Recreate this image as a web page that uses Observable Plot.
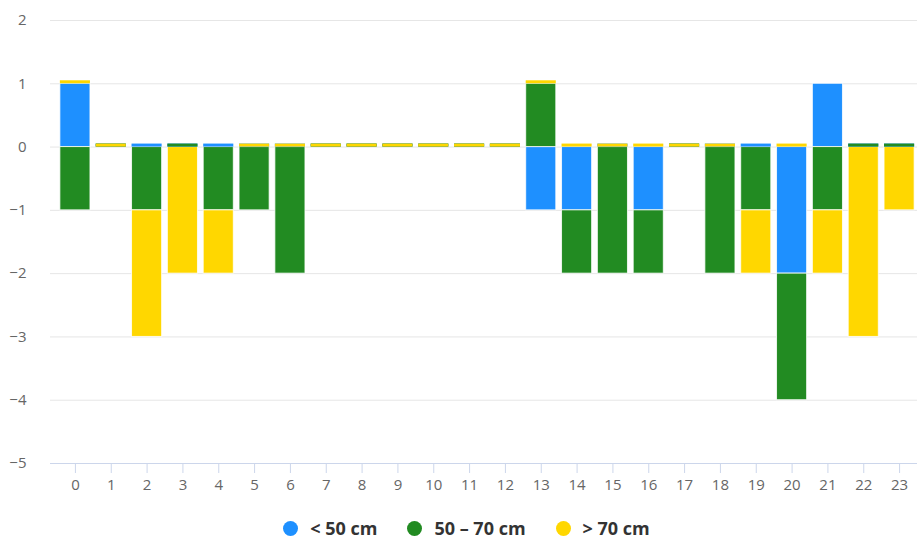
<!DOCTYPE html>
<html>
<head>
<meta charset="utf-8">
<script src="https://cdn.jsdelivr.net/npm/d3@7"></script>
<script src="https://cdn.jsdelivr.net/npm/@observablehq/plot@0.6"></script>
<style>
  html, body { margin: 0; padding: 0; background: #fff; }
  #chart { width: 917px; }
  .legend { display: flex; justify-content: center; align-items: center; margin-top: 18px; height: 20px; line-height: 20px; padding-left: 16px;
    font-family: "Open Sans", sans-serif; font-size: 18px; font-weight: 700; color: #333; }
  .legend .item { display: flex; align-items: center; margin: 0 15px; }
  .legend .dot { width: 15px; height: 15px; border-radius: 50%; margin-right: 12px; }
</style>
</head>
<body>
<div id="chart"></div>
<script>
const hours = [0,1,2,3,4,5,6,7,8,9,10,11,12,13,14,15,16,17,18,19,20,21,22,23];
const seriesNames = ["< 50 cm", "50 – 70 cm", "> 70 cm"];
const seriesColors = ["#1E90FF", "#228B22", "#FFD700"];
const lt50  = [ 1, 0, 0, 0, 0, 0, 0, 0, 0, 0, 0, 0, 0,-1,-1, 0,-1, 0, 0, 0,-2, 1, 0, 0];
const mid   = [-1, 0,-1, 0,-1,-1,-2, 0, 0, 0, 0, 0, 0, 1,-1,-2,-1, 0,-2,-1,-2,-1, 0, 0];
const gt70  = [ 0, 0,-2,-2,-1, 0, 0, 0, 0, 0, 0, 0, 0, 0, 0, 0, 0, 0, 0,-1, 0,-1,-3,-1];
const yTicks = [-5,-4,-3,-2,-1,0,1,2];

const seriesValues = [lt50, mid, gt70];
const table = [];
hours.forEach((h, i) => {
  seriesValues.forEach((vals, s) => {
    table.push({hour: String(h), series: seriesNames[s], value: vals[i]});
  });
});

const stackOpts = {x: "hour", y: "value", fill: "series"};
const fmt = d => (d < 0 ? "\u2212" : "") + Math.abs(d);

const chart = Plot.plot({
  width: 917,
  height: 500,
  marginTop: 20,
  marginBottom: 37,
  marginLeft: 57,
  marginRight: 0,
  style: {fontFamily: "'Open Sans', sans-serif", fontSize: "15px", color: "#666", background: "#fff", overflow: "visible"},
  x: {type: "band", domain: hours.map(String), round: false, paddingInner: 0.16, paddingOuter: 0.08, label: null},
  y: {domain: [-5, 2], label: null},
  color: {domain: seriesNames, range: seriesColors},
  opacity: {domain: [0, 1], range: [0, 1]},
  marks: [
    Plot.ruleY(yTicks.filter(t => t > -5), {stroke: "#e6e6e6", strokeWidth: 1, insetLeft: -7}),
    Plot.barY(table, Plot.stackY({...stackOpts, stroke: "white", strokeWidth: 1, strokeOpacity: 0.8})),
    Plot.barY(table, Plot.stackY({...stackOpts, fillOpacity: d => d.value === 0 ? 1 : 0, insetTop: -3})),
    Plot.ruleY([-5], {stroke: "#ccd6eb", strokeWidth: 1, insetLeft: -7}),
    Plot.axisX({tickSize: 10, tickPadding: 6, stroke: "#ccd6eb", fill: "#666", fontSize: 15, label: null}),
    Plot.axisY({ticks: yTicks, tickFormat: fmt, tickSize: 0, tickPadding: 31, fill: "#666", fontSize: 15, label: null})
  ]
});

document.getElementById("chart").appendChild(chart);

const legend = document.createElement("div");
legend.className = "legend";
seriesNames.forEach((name, i) => {
  const item = document.createElement("div");
  item.className = "item";
  const dot = document.createElement("span");
  dot.className = "dot";
  dot.style.background = seriesColors[i];
  const label = document.createElement("span");
  label.textContent = name;
  item.appendChild(dot);
  item.appendChild(label);
  legend.appendChild(item);
});
document.getElementById("chart").appendChild(legend);
</script>
</body>
</html>
